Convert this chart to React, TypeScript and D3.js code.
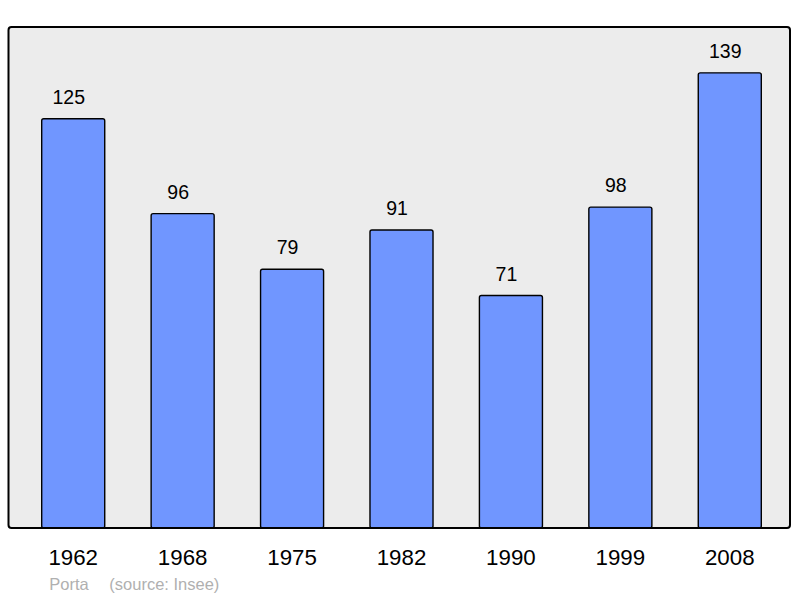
import React from "react";
import * as d3 from "d3";

const years = ["1962", "1968", "1975", "1982", "1990", "1999", "2008"];
const population = [125, 96, 79, 91, 71, 98, 139];
const placeName = "Porta";
const sourceText = "(source: Insee)";

export default function App() {
  const W = 800;
  const H = 598;
  const frame = { x0: 8.5, x1: 790, y0: 27, y1: 528 };

  const x = d3
    .scaleBand<string>()
    .domain(years)
    .range([41.7, 761.3])
    .paddingInner(0.424)
    .paddingOuter(0);

  const y = d3.scaleLinear().domain([0, 153]).range([frame.y1, frame.y0]);

  const font = "'Liberation Sans', Arial, sans-serif";

  return (
    <svg
      width={W}
      height={H}
      style={{ position: "absolute", left: 0, top: 0 }}
      fontFamily={font}
    >
      <rect x={0} y={0} width={W} height={H} fill="#ffffff" />
      <rect
        x={frame.x0}
        y={frame.y0}
        width={frame.x1 - frame.x0}
        height={frame.y1 - frame.y0}
        rx={3}
        fill="#ececec"
        stroke="none"
      />
      {years.map((yr, i) => {
        const v = population[i];
        const bx = x(yr)!;
        const bw = x.bandwidth();
        const top = y(v);
        return (
          <g key={yr}>
            <rect
              x={bx}
              y={top}
              width={bw}
              height={y(0) - top}
              rx={2}
              fill="#7096ff"
              stroke="#000"
              strokeWidth={1.4}
            />
            <text
              x={bx + bw / 2 - 4.5}
              y={top - 15}
              textAnchor="middle"
              fontSize={19.5}
              fill="#000"
            >
              {v}
            </text>
            <text
              x={bx + bw / 2}
              y={565}
              textAnchor="middle"
              fontSize={22.3}
              fill="#000"
            >
              {yr}
            </text>
          </g>
        );
      })}
      <rect
        x={frame.x0}
        y={frame.y0}
        width={frame.x1 - frame.x0}
        height={frame.y1 - frame.y0}
        rx={3}
        fill="none"
        stroke="#000"
        strokeWidth={2}
      />
      <text x={49.3} y={590} fontSize={16.5} fill="#b0b0b0">
        {placeName}
      </text>
      <text x={109.3} y={590} fontSize={16.5} fill="#b0b0b0">
        {sourceText}
      </text>
    </svg>
  );
}
